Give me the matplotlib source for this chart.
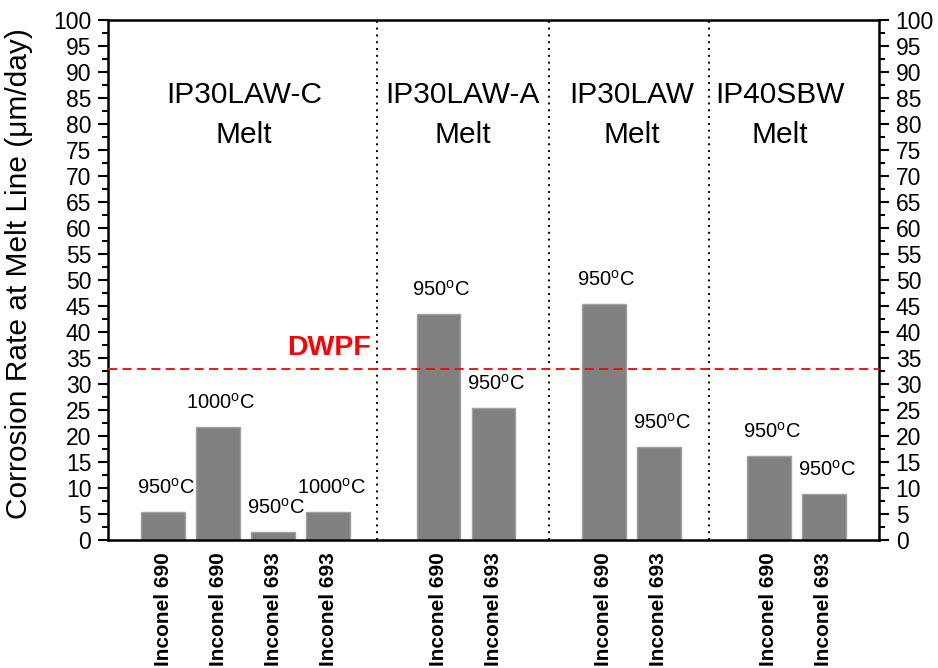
import matplotlib
matplotlib.use("Agg")
import matplotlib.pyplot as plt
from matplotlib.ticker import MultipleLocator

plt.rcParams['font.family'] = ['Liberation Sans', 'DejaVu Sans']
plt.rcParams['mathtext.fontset'] = 'custom'
plt.rcParams['mathtext.rm'] = 'Liberation Sans'
plt.rcParams['mathtext.it'] = 'Liberation Sans:italic'

# ---- data ----
positions = [1, 2, 3, 4, 6, 7, 9, 10, 12, 13]
alloys = ["Inconel 690", "Inconel 690", "Inconel 693", "Inconel 693",
          "Inconel 690", "Inconel 693",
          "Inconel 690", "Inconel 693",
          "Inconel 690", "Inconel 693"]
temps = ["950", "1000", "950", "1000", "950", "950", "950", "950", "950", "950"]
rates = [5.3, 21.7, 1.6, 5.3, 43.4, 25.3, 45.4, 17.9, 16.1, 8.9]
melts = ["IP30LAW-C\nMelt", "IP30LAW-A\nMelt", "IP30LAW\nMelt", "IP40SBW\nMelt"]
melt_x = [2.47, 6.44, 9.51, 12.2]
separators = [4.89, 8.0, 10.91]
dwpf = 32.8

fig = plt.figure(figsize=(9.38, 6.68), dpi=100)
ax = fig.add_axes([0.1151, 0.1916, 0.9371 - 0.1151, 0.9708 - 0.1916])

ax.bar(positions, rates, width=0.795, color='#808080', edgecolor='#a0a0a0', linewidth=1, zorder=2)

for x, v, t in zip(positions, rates, temps):
    ax.annotate(t + r'$^{\mathrm{o}}$C', xy=(x, v), xytext=(2, 17.5), textcoords='offset points',
                ha='center', va='center', fontsize=14.5)

for s in separators:
    ax.axvline(s, color='black', linestyle=(0, (1, 2.5)), linewidth=1.4, zorder=1)

ax.axhline(dwpf, color='#ff0000', linestyle=(0, (5, 3)), linewidth=1.3, zorder=3)
ax.text(4.78, dwpf + 1.5, 'DWPF', color='#ff0000', fontsize=20.5, fontweight='bold',
        ha='right', va='bottom')

for mx, m in zip(melt_x, melts):
    ax.text(mx, 88.2, m, ha='center', va='top', fontsize=21.5, linespacing=1.55)

ax.set_xlim(0, 14)
ax.set_ylim(0, 100)
ax.set_xticks(positions)
ax.set_xticklabels(alloys, rotation=90, fontsize=15, fontweight='bold', va='top')
ax.tick_params(axis='x', length=0, pad=9)

ax.yaxis.set_major_locator(MultipleLocator(5))
ax.yaxis.set_minor_locator(MultipleLocator(2.5))
ax.tick_params(axis='y', which='major', direction='out', length=7.5, width=1.5,
               labelsize=16.5, left=True, right=True, labelleft=True, labelright=True, pad=4.5)
ax.tick_params(axis='y', which='minor', direction='out', length=4.5, width=1.5, left=True, right=True)

for sp in ax.spines.values():
    sp.set_linewidth(1.8)

ax.set_ylabel('Corrosion Rate at Melt Line (\u03bcm/day)', fontsize=21.5)
ax.yaxis.set_label_coords(-0.0973, 0.512)

fig.savefig('out.png', dpi=100)
